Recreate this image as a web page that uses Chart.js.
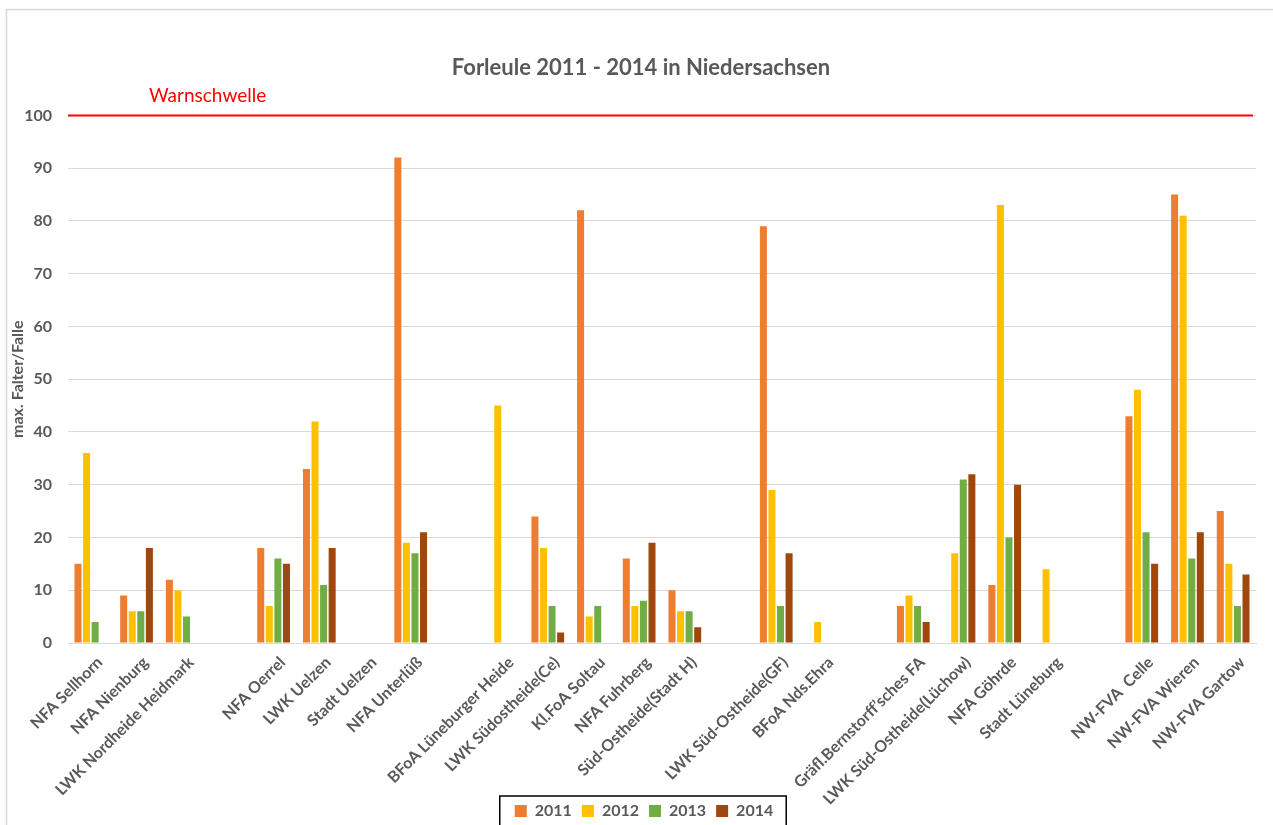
<!DOCTYPE html>
<html>
<head>
<meta charset="utf-8">
<script src="https://cdn.jsdelivr.net/npm/chart.js@4.4.1/dist/chart.umd.min.js"></script>
<style>
  html, body { margin: 0; background: #fff; }
  #wrap { width: 1273px; height: 825px; position: relative; }
</style>
</head>
<body>
<div id="wrap"><canvas id="forleule"></canvas></div>
<script>
// Kategorien (leere Einträge = Lücken zwischen den Gruppen)
const categories = [
  'NFA Sellhorn', 'NFA Nienburg', 'LWK Nordheide Heidmark', '',
  'NFA Oerrel', 'LWK Uelzen', 'Stadt Uelzen', 'NFA Unterlüß', '',
  'BFoA Lüneburger Heide', 'LWK Südostheide(Ce)', 'Kl.FoA Soltau', 'NFA Fuhrberg', 'Süd-Ostheide(Stadt H)', '',
  'LWK Süd-Ostheide(GF)', 'BFoA Nds.Ehra', '',
  'Gräfl.Bernstorff’sches FA', 'LWK Süd-Ostheide(Lüchow)', 'NFA Göhrde', 'Stadt Lüneburg', '',
  'NW-FVA  Celle', 'NW-FVA Wieren', 'NW-FVA Gartow'
];

const years = ['2011', '2012', '2013', '2014'];

const values2011 = [15, 9, 12, null, 18, 33, null, 92, null, null, 24, 82, 16, 10, null, 79, null, null, 7, null, 11, null, null, 43, 85, 25];
const values2012 = [36, 6, 10, null, 7, 42, null, 19, null, 45, 18, 5, 7, 6, null, 29, 4, null, 9, 17, 83, 14, null, 48, 81, 15];
const values2013 = [4, 6, 5, null, 16, 11, null, 17, null, null, 7, 7, 8, 6, null, 7, null, null, 7, 31, 20, null, null, 21, 16, 7];
const values2014 = [null, 18, null, null, 15, 18, null, 21, null, null, 2, null, 19, 3, null, 17, null, null, 4, 32, 30, null, null, 15, 21, 13];

const yTicks = [0, 10, 20, 30, 40, 50, 60, 70, 80, 90, 100];

const warnLevel = 100;
const warnLabel = 'Warnschwelle';

const colors = ['#ED7D31', '#FFC000', '#70AD47', '#9E480E'];
const textGray = '#595959';
const fontFamily = 'Lato, "Open Sans", sans-serif';

// Rahmen um das Diagramm
const framePlugin = {
  id: 'frame',
  beforeDraw(chart) {
    const ctx = chart.ctx;
    ctx.save();
    ctx.strokeStyle = '#d9d9d9';
    ctx.lineWidth = 1.5;
    ctx.strokeRect(6.5, 9.5, chart.width + 10, chart.height + 10);
    ctx.restore();
  }
};

// Feinjustierung nach dem Layout:
// x-Beschriftungen dürfen in den Legendenbereich ragen, Titel und Legende
// sitzen wie in Excel etwas rechts der Mitte
const layoutTweaks = {
  id: 'layoutTweaks',
  afterLayout(chart) {
    chart.scales.x.bottom = chart.height;
    if (chart.legend) {
      chart.legend.left += 12;
      chart.legend.right += 12;
    }
    if (chart.titleBlock) {
      chart.titleBlock.left += 9;
      chart.titleBlock.right += 9;
    }
  }
};

// rote Warnschwelle
const warnPlugin = {
  id: 'warnLine',
  afterDatasetsDraw(chart) {
    const { ctx, chartArea, scales } = chart;
    const y = scales.y.getPixelForValue(warnLevel);
    ctx.save();
    ctx.strokeStyle = '#FF0000';
    ctx.lineWidth = 2;
    ctx.beginPath();
    ctx.moveTo(chartArea.left, y);
    ctx.lineTo(chartArea.right - 3, y);
    ctx.stroke();
    ctx.fillStyle = '#FF0000';
    ctx.font = '19px ' + fontFamily;
    ctx.textBaseline = 'alphabetic';
    ctx.fillText(warnLabel, chartArea.left + 81, y - 13);
    ctx.restore();
  }
};

// schwarzer Rahmen um die Legende
const legendBoxPlugin = {
  id: 'legendBox',
  afterDraw(chart) {
    const boxes = chart.legend && chart.legend.legendHitBoxes;
    if (!boxes || !boxes.length) return;
    const left = Math.min(...boxes.map(b => b.left));
    const right = Math.max(...boxes.map(b => b.left + b.width));
    const top = Math.min(...boxes.map(b => b.top));
    const ctx = chart.ctx;
    ctx.save();
    ctx.strokeStyle = '#000';
    ctx.lineWidth = 1.5;
    ctx.strokeRect(left - 15, top - 7, right - left + 28, 60);
    ctx.restore();
  }
};

const ctx = document.getElementById('forleule').getContext('2d');
const seriesValues = [values2011, values2012, values2013, values2014];

new Chart(ctx, {
  type: 'bar',
  data: {
    labels: categories,
    datasets: years.map((year, i) => ({
      label: year,
      data: seriesValues[i],
      backgroundColor: colors[i],
      categoryPercentage: 0.75,
      barPercentage: 0.82,
    })),
  },
  options: {
    responsive: true,
    maintainAspectRatio: false,
    animation: false,
    layout: { padding: { left: 8, right: 17, top: 10, bottom: -4 } },
    plugins: {
      title: {
        display: true,
        text: 'Forleule 2011 - 2014 in Niedersachsen',
        color: textGray,
        font: { family: fontFamily, size: 22, weight: 'bold' },
        padding: { top: 45, bottom: 34 },
      },
      legend: {
        position: 'bottom',
        labels: {
          color: textGray,
          font: { family: fontFamily, size: 16, weight: 'bold' },
          boxWidth: 12,
          boxHeight: 12,
          padding: 10,
        },
      },
      tooltip: { enabled: false },
    },
    scales: {
      x: {
        grid: { display: false },
        border: { display: true, color: '#d9d9d9' },
        ticks: {
          autoSkip: false,
          maxRotation: 45,
          minRotation: 45,
          labelOffset: 9,
          color: textGray,
          font: { family: fontFamily, size: 16, weight: 'bold' },
          padding: 2,
        },
        afterFit: (scale) => { scale.height = 150; },
      },
      y: {
        min: 0,
        max: 100,
        afterBuildTicks: (scale) => { scale.ticks = yTicks.map(v => ({ value: v })); },
        grid: { color: '#d9d9d9', drawTicks: false },
        border: { display: false },
        ticks: {
          color: textGray,
          font: { family: fontFamily, size: 16, weight: 'bold' },
          padding: 16,
        },
        title: {
          display: true,
          text: 'max. Falter/Falle',
          color: textGray,
          font: { family: fontFamily, size: 16, weight: 'bold' },
          padding: { top: 0, bottom: 0 },
        },
        afterFit: (scale) => { scale.width = 60; },
      },
    },
  },
  plugins: [framePlugin, layoutTweaks, warnPlugin, legendBoxPlugin],
});
</script>
</body>
</html>
